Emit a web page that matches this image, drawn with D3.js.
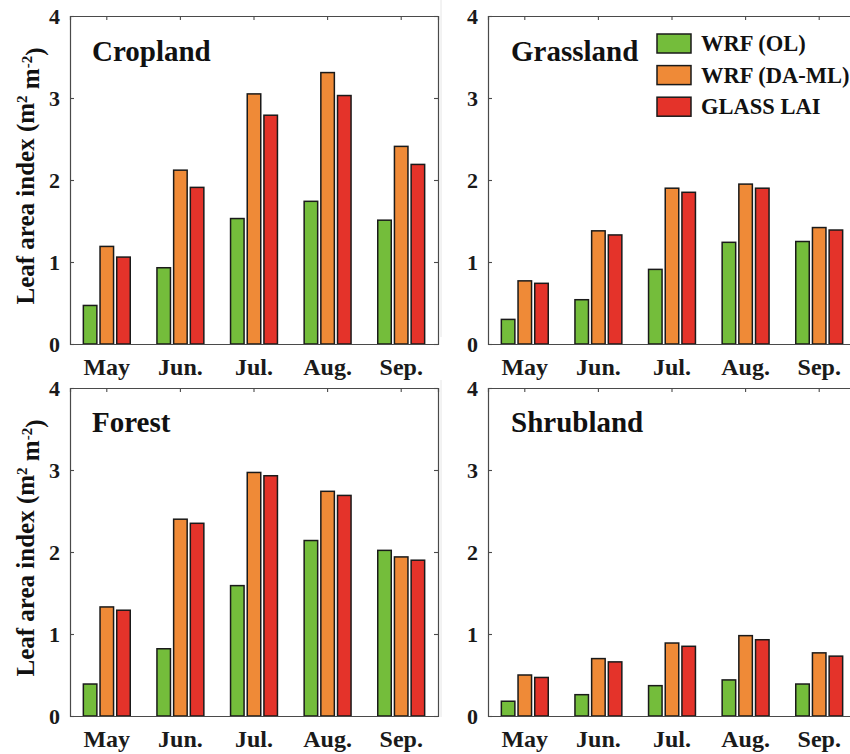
<!DOCTYPE html>
<html>
<head>
<meta charset="utf-8">
<script src="https://cdn.jsdelivr.net/npm/d3@7"></script>
<style>
  html, body { margin: 0; padding: 0; background: #fff; }
  svg { display: block; font-family: "Liberation Serif", "Times New Roman", serif; font-weight: bold; }
</style>
</head>
<body>
<svg id="chart" width="850" height="754"></svg>
<script>
// ---- data ----
const months = ["May", "Jun.", "Jul.", "Aug.", "Sep."];
const seriesNames = ["WRF (OL)", "WRF (DA-ML)", "GLASS LAI"];
const yTicks = [0, 1, 2, 3, 4];
const landCovers = ["Cropland", "Grassland", "Forest", "Shrubland"];

const croplandOL   = [0.47, 0.93, 1.53, 1.74, 1.51];
const croplandDA   = [1.19, 2.12, 3.05, 3.31, 2.41];
const croplandGL   = [1.06, 1.91, 2.79, 3.03, 2.19];

const grasslandOL  = [0.30, 0.54, 0.91, 1.24, 1.25];
const grasslandDA  = [0.77, 1.38, 1.90, 1.95, 1.42];
const grasslandGL  = [0.74, 1.33, 1.85, 1.90, 1.39];

const forestOL     = [0.39, 0.82, 1.59, 2.14, 2.02];
const forestDA     = [1.33, 2.40, 2.97, 2.74, 1.94];
const forestGL     = [1.29, 2.35, 2.93, 2.69, 1.90];

const shrublandOL  = [0.18, 0.26, 0.37, 0.44, 0.39];
const shrublandDA  = [0.50, 0.70, 0.89, 0.98, 0.77];
const shrublandGL  = [0.47, 0.66, 0.85, 0.93, 0.73];

const panelData = {
  Cropland:  [croplandOL, croplandDA, croplandGL],
  Grassland: [grasslandOL, grasslandDA, grasslandGL],
  Forest:    [forestOL, forestDA, forestGL],
  Shrubland: [shrublandOL, shrublandDA, shrublandGL]
};

// ---- style / layout ----
const colors = ["#74bd3b", "#ef8a37", "#e4332a"];
const frameColor = "#4a4a4a";
const panelW = 368, panelH = 328;
const layout = {
  Cropland:  { x: 70,  y: 16,  ylabel: true },
  Grassland: { x: 488, y: 16,  ylabel: false },
  Forest:    { x: 70,  y: 388, ylabel: true },
  Shrubland: { x: 488, y: 388, ylabel: false }
};

const svg = d3.select("#chart");

// faint separator lines seen between the columns
svg.append("line").attr("x1", 441).attr("x2", 441).attr("y1", 0).attr("y2", 337)
  .attr("stroke", "#e6e6e6").attr("stroke-width", 1);
svg.append("line").attr("x1", 441).attr("x2", 441).attr("y1", 380).attr("y2", 717)
  .attr("stroke", "#e6e6e6").attr("stroke-width", 1);

const x0 = d3.scaleBand().domain(months).range([0, panelW]).paddingInner(0).paddingOuter(0);
const x1 = d3.scaleBand().domain(seriesNames).range([0, x0.bandwidth()]).paddingInner(0.19).paddingOuter(0.8);
const y = d3.scaleLinear().domain([0, 4]).range([panelH, 0]);

landCovers.forEach(name => {
  const L = layout[name];
  const g = svg.append("g").attr("transform", `translate(${L.x},${L.y})`);

  // bars
  const rows = months.map((m, i) => ({ month: m, vals: seriesNames.map((s, k) => ({ s, k, v: panelData[name][k][i] })) }));
  const grp = g.selectAll("g.grp").data(rows).join("g")
    .attr("class", "grp")
    .attr("transform", d => `translate(${x0(d.month)},0)`);
  grp.selectAll("rect").data(d => d.vals).join("rect")
    .attr("x", d => x1(d.s))
    .attr("width", x1.bandwidth())
    .attr("y", d => y(d.v))
    .attr("height", d => y(0) - y(d.v))
    .attr("fill", d => colors[d.k])
    .attr("stroke", "#1a1a1a")
    .attr("stroke-width", 1.5);

  // axes (ticks inside, MATLAB-like box)
  const tickLen = 4;
  const left = g.append("g").call(d3.axisLeft(y).tickValues(yTicks).tickSize(-tickLen).tickPadding(10).tickFormat(d3.format("d")));
  const right = g.append("g").attr("transform", `translate(${panelW},0)`)
    .call(d3.axisRight(y).tickValues(yTicks).tickSize(-tickLen).tickFormat(""));
  const top = g.append("g").call(d3.axisTop(x0).tickSize(-tickLen).tickFormat(""));
  const bottom = g.append("g").attr("transform", `translate(0,${panelH})`)
    .call(d3.axisBottom(x0).tickSize(0).tickPadding(14));
  [left, right, top, bottom].forEach(a => {
    a.select(".domain").attr("stroke", frameColor).attr("stroke-width", 1.2);
    a.selectAll(".tick line").attr("stroke", frameColor).attr("stroke-width", 1.1);
    a.selectAll("text").attr("fill", "#1a1a1a")
      .style("font-family", '"Liberation Serif", "Times New Roman", serif').style("font-weight", "bold");
  });
  left.selectAll("text").style("font-size", "22px");
  bottom.selectAll("text").style("font-size", "24px").attr("dy", "0.71em");
  bottom.selectAll(".tick line").remove();

  // panel title
  g.append("text")
    .attr("x", name === "Cropland" || name === "Forest" ? 22 : 23)
    .attr("y", name === "Cropland" || name === "Grassland" ? 44.5 : 44)
    .attr("fill", "#111")
    .style("font-size", "29px")
    .text(name);

  // y label
  if (L.ylabel) {
    const t = g.append("text")
      .attr("transform", `translate(-36,${panelH / 2 - 4}) rotate(-90)`)
      .attr("text-anchor", "middle")
      .attr("fill", "#111")
      .style("font-size", "25px");
    t.append("tspan").text("Leaf area index (m");
    t.append("tspan").attr("dy", "-0.45em").style("font-size", "15px").text("2");
    t.append("tspan").attr("dy", "0.45em").text(" m");
    t.append("tspan").attr("dy", "-0.45em").style("font-size", "15px").text("-2");
    t.append("tspan").attr("dy", "0.45em").text(")");
  }

  // legend in Grassland panel
  if (name === "Grassland") {
    const lg = g.append("g").attr("transform", "translate(169,18)");
    const item = lg.selectAll("g").data(seriesNames).join("g")
      .attr("transform", (d, i) => `translate(0,${i * 31.6})`);
    item.append("rect")
      .attr("width", 34).attr("height", 19)
      .attr("fill", (d, i) => colors[i])
      .attr("stroke", "#1a1a1a").attr("stroke-width", 1.5);
    item.append("text")
      .attr("x", 44).attr("y", 17)
      .attr("fill", "#111")
      .style("font-size", "22.5px")
      .text(d => d);
  }
});
</script>
</body>
</html>
